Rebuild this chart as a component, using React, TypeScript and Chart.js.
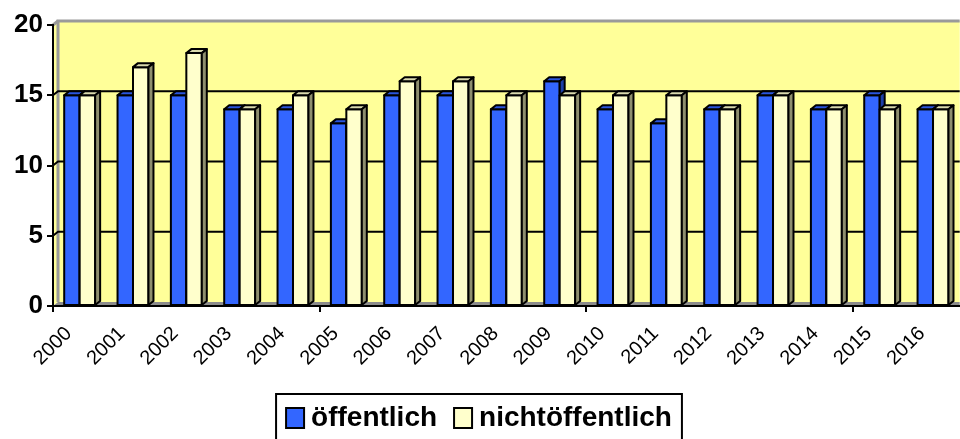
import React, { useEffect, useRef } from 'react';
import { Chart, registerables } from 'chart.js';

Chart.register(...registerables);

const years = ['2000', '2001', '2002', '2003', '2004', '2005', '2006', '2007', '2008', '2009', '2010', '2011', '2012', '2013', '2014', '2015', '2016'];
const oeffentlich = [15, 15, 15, 14, 14, 13, 15, 15, 14, 16, 14, 13, 14, 15, 14, 15, 14];
const nichtOeffentlich = [15, 17, 18, 14, 15, 14, 16, 16, 15, 15, 15, 15, 14, 15, 14, 14, 14];
const yTicks = [0, 5, 10, 15, 20];
const seriesNames = ['öffentlich', 'nichtöffentlich'];

const FONT = 'Arial, "Liberation Sans", sans-serif';
const FRONT = ['#3366FF', '#FFFFCC'];
const TOP = ['#2A55DD', '#DADAAE'];
const SIDE = ['#1E3FA8', '#8E8E6E'];
const DX = 5;
const DY = 4;

const wallPlugin = {
  id: 'wall3d',
  beforeDraw(chart: any) {
    const { ctx, chartArea: a, scales } = chart;
    const y = scales.y;
    ctx.save();
    ctx.fillStyle = '#FFFF99';
    ctx.beginPath();
    ctx.moveTo(a.left, a.top);
    ctx.lineTo(a.left + DX, a.top - DY);
    ctx.lineTo(a.left + DX, a.bottom - DY);
    ctx.lineTo(a.left, a.bottom);
    ctx.closePath();
    ctx.fill();
    ctx.fillRect(a.left + DX, a.top - DY, a.right - a.left - DX, a.bottom - a.top);
    ctx.strokeStyle = '#9A9A9A';
    ctx.lineWidth = 3;
    ctx.beginPath();
    ctx.moveTo(a.left + DX, a.bottom - DY);
    ctx.lineTo(a.left + DX, a.top - DY);
    ctx.lineTo(a.right, a.top - DY);
    ctx.stroke();
    ctx.beginPath();
    ctx.moveTo(a.left, a.top);
    ctx.lineTo(a.left + DX, a.top - DY);
    ctx.stroke();
    ctx.fillStyle = '#8C8C8C';
    ctx.beginPath();
    ctx.moveTo(a.left, a.bottom);
    ctx.lineTo(a.left + DX, a.bottom - DY);
    ctx.lineTo(a.right, a.bottom - DY);
    ctx.lineTo(a.right, a.bottom);
    ctx.closePath();
    ctx.fill();
    ctx.strokeStyle = '#000';
    ctx.lineWidth = 2;
    yTicks.forEach((v) => {
      if (v === 0 || v === 20) return;
      const py = y.getPixelForValue(v);
      ctx.beginPath();
      ctx.moveTo(a.left, py);
      ctx.lineTo(a.left + DX, py - DY);
      ctx.lineTo(a.right, py - DY);
      ctx.stroke();
    });
    ctx.restore();
  },
};

const barsPlugin = {
  id: 'bars3d',
  afterDatasetsDraw(chart: any) {
    const { ctx } = chart;
    const metas = chart.data.datasets.map((_: any, i: number) => chart.getDatasetMeta(i));
    ctx.save();
    ctx.strokeStyle = '#000';
    ctx.lineWidth = 2;
    ctx.lineJoin = 'round';
    for (let i = 0; i < years.length; i++) {
      metas.forEach((meta: any, d: number) => {
        const el = meta.data[i];
        if (!el) return;
        const { x, y, base, width } = el.getProps(['x', 'y', 'base', 'width'], true);
        const l = x - width / 2;
        const r = x + width / 2;
        ctx.fillStyle = FRONT[d];
        ctx.beginPath();
        ctx.rect(l, y, width, base - y);
        ctx.fill();
        ctx.stroke();
        ctx.fillStyle = TOP[d];
        ctx.beginPath();
        ctx.moveTo(l, y);
        ctx.lineTo(l + DX, y - DY);
        ctx.lineTo(r + DX, y - DY);
        ctx.lineTo(r, y);
        ctx.closePath();
        ctx.fill();
        ctx.stroke();
        ctx.fillStyle = SIDE[d];
        ctx.beginPath();
        ctx.moveTo(r, y);
        ctx.lineTo(r + DX, y - DY);
        ctx.lineTo(r + DX, base - DY);
        ctx.lineTo(r, base);
        ctx.closePath();
        ctx.fill();
        ctx.stroke();
      });
    }
    ctx.restore();
  },
};

const legendPlugin = {
  id: 'boxLegend',
  afterDraw(chart: any) {
    const { ctx } = chart;
    ctx.save();
    ctx.font = `bold 28px ${FONT}`;
    const sq = 18;
    const gapSq = 7;
    const gapItem = 17;
    const widths = seriesNames.map((n) => ctx.measureText(n).width);
    let total = 0;
    widths.forEach((w, i) => {
      total += sq + gapSq + w + (i < widths.length - 1 ? gapItem : 0);
    });
    const cx = chart.width / 2 - 1;
    const boxL = cx - total / 2 - 10;
    const boxR = cx + total / 2 + 10;
    const boxT = 394;
    ctx.strokeStyle = '#000';
    ctx.lineWidth = 2;
    ctx.strokeRect(boxL, boxT, boxR - boxL, 60);
    let x = cx - total / 2;
    const midY = 418;
    seriesNames.forEach((n, i) => {
      ctx.fillStyle = FRONT[i];
      ctx.fillRect(x, midY - 10, sq, 20);
      ctx.strokeRect(x, midY - 10, sq, 20);
      x += sq + gapSq;
      ctx.fillStyle = '#000';
      ctx.textAlign = 'left';
      ctx.textBaseline = 'middle';
      ctx.fillText(n, x, midY);
      x += widths[i] + gapItem;
    });
    ctx.restore();
  },
};

export default function App() {
  const canvasRef = useRef<HTMLCanvasElement>(null);

  useEffect(() => {
    const canvas = canvasRef.current;
    if (!canvas) return;
    const chart = new Chart(canvas, {
      type: 'bar',
      data: {
        labels: years,
        datasets: [
          {
            label: seriesNames[0],
            data: oeffentlich,
            backgroundColor: 'rgba(0,0,0,0)',
            borderWidth: 0,
            categoryPercentage: 0.58,
            barPercentage: 1.0,
          },
          {
            label: seriesNames[1],
            data: nichtOeffentlich,
            backgroundColor: 'rgba(0,0,0,0)',
            borderWidth: 0,
            categoryPercentage: 0.58,
            barPercentage: 1.0,
          },
        ],
      },
      options: {
        responsive: false,
        maintainAspectRatio: false,
        animation: false,
        devicePixelRatio: 1,
        layout: { padding: { top: 25, right: 0, bottom: 0, left: 0 } },
        plugins: {
          legend: { display: false },
          tooltip: { enabled: false },
          title: { display: false },
        },
        scales: {
          x: {
            offset: true,
            afterFit: (s: any) => {
              s.height = 133;
            },
            grid: {
              offset: true,
              drawOnChartArea: false,
              drawTicks: true,
              tickLength: 6,
              lineWidth: 2,
              color: (c: any) => (c.index % 5 === 0 ? '#000' : 'rgba(0,0,0,0)'),
            },
            border: { display: true, color: '#000', width: 2 },
            ticks: {
              autoSkip: false,
              maxRotation: 45,
              minRotation: 45,
              labelOffset: -11,
              padding: 10,
              color: '#000',
              font: { family: FONT, size: 20 },
            },
          },
          y: {
            min: 0,
            max: 20,
            afterFit: (s: any) => {
              s.width = 53;
            },
            afterBuildTicks: (s: any) => {
              s.ticks = yTicks.map((v) => ({ value: v }));
            },
            grid: {
              drawOnChartArea: false,
              drawTicks: true,
              tickLength: 6,
              lineWidth: 2,
              color: '#000',
            },
            border: { display: true, color: '#000', width: 2 },
            ticks: {
              padding: 4,
              color: '#000',
              font: { family: FONT, size: 26, weight: 'bold' },
            },
          },
        },
      },
      plugins: [wallPlugin, barsPlugin, legendPlugin],
    });
    return () => chart.destroy();
  }, []);

  return (
    <div style={{ position: 'absolute', left: 0, top: 0, width: 960, height: 439, overflow: 'hidden', background: '#fff' }}>
      <canvas ref={canvasRef} width={960} height={439} style={{ display: 'block', width: 960, height: 439 }} />
    </div>
  );
}
